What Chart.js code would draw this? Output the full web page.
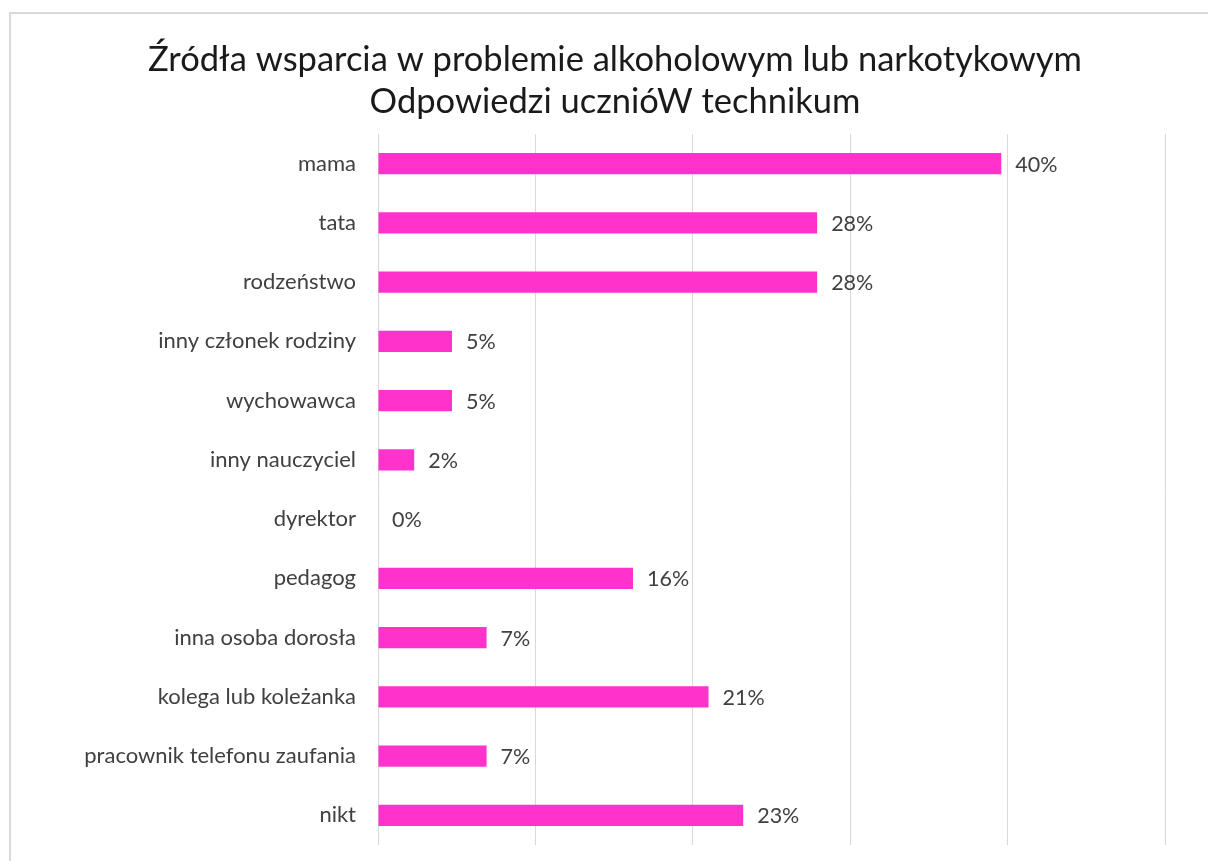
<!DOCTYPE html>
<html>
<head>
<meta charset="utf-8">
<script src="https://cdn.jsdelivr.net/npm/chart.js@4.4.1/dist/chart.umd.min.js"></script>
<style>
  html, body { margin: 0; padding: 0; background: #ffffff; width: 1208px; height: 861px; overflow: hidden; }
  #frame { position: absolute; left: 9px; top: 12px; width: 1240px; height: 900px; border: 2px solid #d9d9d9; box-sizing: border-box; }
  #wrap { position: absolute; left: 0; top: 0; width: 1208px; height: 861px; }
</style>
</head>
<body>
<div id="frame"></div>
<div id="wrap"><canvas id="c" width="1208" height="861"></canvas></div>
<script>
const titleLines = ["Źródła wsparcia w problemie alkoholowym lub narkotykowym", "Odpowiedzi ucznióW technikum"];
const categories = [
  "mama", "tata", "rodzeństwo", "inny członek rodziny", "wychowawca", "inny nauczyciel",
  "dyrektor", "pedagog", "inna osoba dorosła", "kolega lub koleżanka",
  "pracownik telefonu zaufania", "nikt"
];
const values = [39.6, 27.9, 27.9, 4.7, 4.7, 2.3, 0, 16.2, 6.9, 21.0, 6.9, 23.2];
const valueLabels = ["40%", "28%", "28%", "5%", "5%", "2%", "0%", "16%", "7%", "21%", "7%", "23%"];

const FONT = "Lato, 'Open Sans', sans-serif";
const PLOT_LEFT = 378;

const titlePlugin = {
  id: 'centeredTitle',
  afterDraw(chart) {
    const ctx = chart.ctx;
    ctx.save();
    ctx.font = "34.5px " + FONT;
    ctx.fillStyle = "#1a1a1a";
    ctx.textAlign = "center";
    ctx.textBaseline = "alphabetic";
    const cx = chart.width / 2 + 11;
    ctx.fillText(titleLines[0], cx, 71);
    ctx.fillText(titleLines[1], cx, 113);
    ctx.restore();
  }
};

const valueLabelPlugin = {
  id: 'valueLabels',
  afterDatasetsDraw(chart) {
    const ctx = chart.ctx;
    const meta = chart.getDatasetMeta(0);
    ctx.save();
    ctx.font = "21.5px " + FONT;
    ctx.fillStyle = "#404040";
    ctx.textAlign = "left";
    ctx.textBaseline = "middle";
    meta.data.forEach((bar, i) => {
      ctx.fillText(valueLabels[i], bar.x + 14, bar.y + 1);
    });
    ctx.restore();
  }
};

new Chart(document.getElementById('c'), {
  type: 'bar',
  data: {
    labels: categories,
    datasets: [{
      data: values,
      backgroundColor: '#FF33CC',
      borderWidth: 0,
      barPercentage: 0.355,
      categoryPercentage: 1.0
    }]
  },
  options: {
    indexAxis: 'y',
    responsive: false,
    animation: false,
    devicePixelRatio: 1,
    layout: { padding: { left: 0, right: 43, top: 134, bottom: 16 } },
    plugins: {
      legend: { display: false },
      tooltip: { enabled: false },
      title: { display: false }
    },
    scales: {
      x: {
        min: 0,
        max: 50,
        ticks: { display: false, stepSize: 10 },
        border: { display: false },
        grid: { color: '#d9d9d9', lineWidth: 1, drawTicks: false, tickLength: 0 },
        afterFit(scale) { scale.height = 0; scale.paddingTop = 0; scale.paddingBottom = 0; }
      },
      y: {
        ticks: { color: '#404040', font: { family: FONT, size: 22 }, padding: 22 },
        border: { display: false },
        grid: { display: false, drawTicks: false, tickLength: 0 },
        afterFit(scale) { scale.width = PLOT_LEFT; scale.paddingTop = 0; scale.paddingBottom = 0; }
      }
    }
  },
  plugins: [valueLabelPlugin, titlePlugin]
});
</script>
</body>
</html>
